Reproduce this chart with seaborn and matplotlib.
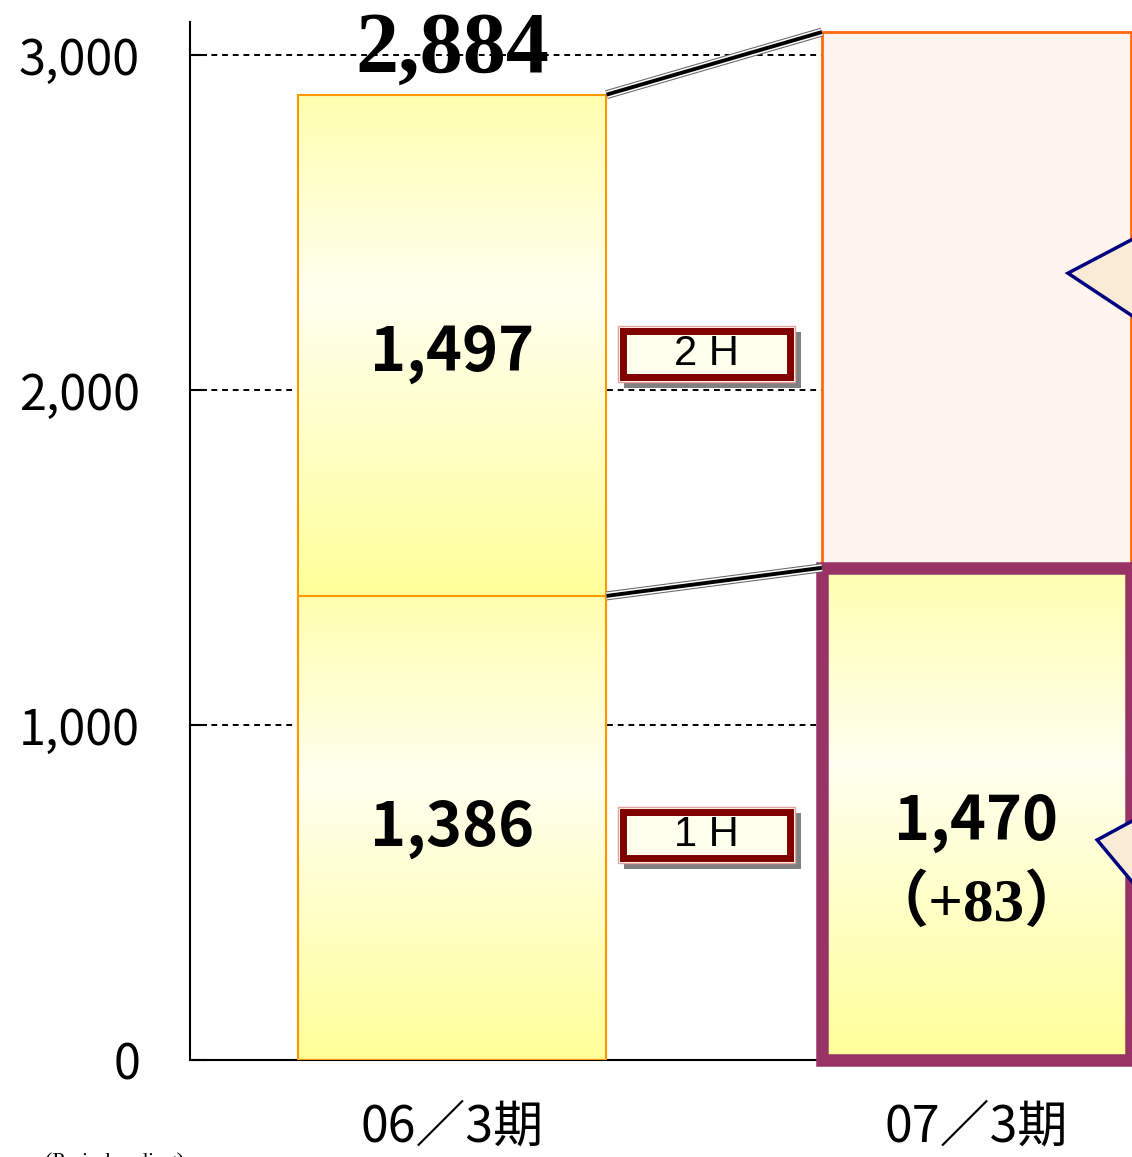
import numpy as np
import pandas as pd
import seaborn as sns
import matplotlib.pyplot as plt
import matplotlib.patheffects as pe
import matplotlib.transforms as mtransforms
from matplotlib.patches import Rectangle, Polygon
from matplotlib.colors import LinearSegmentedColormap

# data
periods = ["06／3期", "07／3期"]
first_half = [1386, 1470]
second_half = [1497, 1600]
total_labels = ["2,884", ""]
first_half_labels = ["1,386", "1,470"]
second_half_labels = ["1,497", ""]
change_label = "（+83）"
half_names = ["1 H", "2 H"]
yticks = [0, 1000, 2000, 3000]

totals = [a + b for a, b in zip(first_half, second_half)]
df = pd.DataFrame({"period": periods, "h1": first_half, "total": totals})

sns.set_style("white")
plt.rcParams["font.family"] = ["Noto Sans CJK JP", "DejaVu Sans"]
plt.rcParams["text.color"] = "black"
plt.rcParams["xtick.color"] = "black"
plt.rcParams["ytick.color"] = "black"

fig = plt.figure(figsize=(11.32, 11.57), dpi=100)
ax = fig.add_axes([190 / 1132, 97 / 1157, 942 / 1132, 1038 / 1157])

bar_w = 0.589
sns.barplot(data=df, x="period", y="total", width=bar_w, ax=ax, color="#FFF5EE")
sns.barplot(data=df, x="period", y="h1", width=bar_w, ax=ax, color="#FFFF99")
tot_bars = ax.patches[:2]
h1_bars = ax.patches[2:4]

cmap = LinearSegmentedColormap.from_list(
    "yel", [(0, "#FFFF99"), (0.6, "#FFFFF0"), (1, "#FFFFB0")])
grad = np.linspace(0, 1, 256).reshape(-1, 1)

def fill_grad(x0, w, y0, y1):
    ax.imshow(grad, extent=[x0, x0 + w, y0, y1], origin="lower", aspect="auto",
              cmap=cmap, zorder=3, interpolation="bilinear")

# bar 1 - both halves yellow
p = tot_bars[0]
fill_grad(p.get_x(), p.get_width(), first_half[0], totals[0])
p.set_facecolor("none"); p.set_edgecolor("#FF9900"); p.set_linewidth(1.5); p.set_zorder(4)
p = h1_bars[0]
fill_grad(p.get_x(), p.get_width(), 0, first_half[0])
p.set_facecolor("none"); p.set_edgecolor("#FF9900"); p.set_linewidth(1.5); p.set_zorder(4)

# bar 2 - upper pale, lower highlighted
p = tot_bars[1]
p.set_facecolor("#FFF5EE"); p.set_edgecolor("#FF6A10"); p.set_linewidth(2); p.set_zorder(2)
p = h1_bars[1]
fill_grad(p.get_x(), p.get_width(), 0, first_half[1])
p.set_facecolor("none"); p.set_edgecolor("#993366"); p.set_linewidth(9); p.set_zorder(4)
p.set_clip_on(False)

# connector lines
x_r = 0 + bar_w / 2
x_l = 1 - bar_w / 2
conn_fx = [pe.Stroke(linewidth=6.5, foreground="#666666"),
           pe.Stroke(linewidth=5, foreground="white"), pe.Normal()]
for y_a, y_b in [(totals[0], totals[1]), (first_half[0], first_half[1])]:
    ax.plot([x_r, x_l], [y_a, y_b], color="black", lw=2.8, zorder=5,
            solid_capstyle="butt", path_effects=conn_fx)

# value labels
ax.text(0, first_half[0] / 2, first_half_labels[0], ha="center", va="center",
        fontsize=44, fontweight="bold", zorder=6)
ax.text(0, first_half[0] + second_half[0] / 2 - 25, second_half_labels[0], ha="center",
        va="center", fontsize=44, fontweight="bold", zorder=6)
ax.text(0, totals[0] + 130, total_labels[0], ha="center", va="center",
        fontsize=62, fontweight="bold", family="Liberation Serif", zorder=6)
ax.text(1, first_half[1] / 2 - 25, first_half_labels[1], ha="center", va="center",
        fontsize=44, fontweight="bold", zorder=6)
ax.text(1, first_half[1] / 2 - 270, change_label, ha="center", va="center",
        fontsize=44, fontweight="bold", family=["Liberation Serif", "Noto Sans CJK JP"],
        zorder=6)

# 1H / 2H boxes
box_w, box_h = 177 / 524.2, 56 / 0.3347
box_x = 0.485
dx, dy = 2 / 524.2, 2 / 0.3347
shadow = mtransforms.offset_copy(ax.transData, fig=fig, x=6, y=-6, units="dots")
for name, yc in zip(half_names, [first_half[0] / 2 - 20, first_half[0] + second_half[0] / 2 - 25]):
    x0, y0 = box_x - box_w / 2, yc - box_h / 2
    ax.add_patch(Rectangle((x0, y0), box_w, box_h, transform=shadow,
                           fc="#808080", ec="none", zorder=5))
    ax.add_patch(Rectangle((x0, y0), box_w, box_h, fc="#FFFFEE", ec="#E8A0A0",
                           lw=1, zorder=6))
    ax.add_patch(Rectangle((x0 + 2.5 * dx, y0 + 2.5 * dy), box_w - 5 * dx, box_h - 5 * dy,
                           fc="none", ec="#800000", lw=5, zorder=6))
    ax.text(box_x, yc, name, ha="center", va="center",
            fontsize=30, family="Liberation Sans", zorder=7)

# callout tips on the right
for pts in [[(0.932, 0.758), (1.02, 0.800), (1.02, 0.705)],
            [(0.963, 0.212), (1.02, 0.240), (1.02, 0.150)]]:
    ax.add_patch(Polygon(pts, closed=True, transform=ax.transAxes, fc="#FAEBD7",
                         ec="#000080", lw=2.5, zorder=7, clip_on=False))

# axes styling
ax.set_xlim(-0.5, 1.297)
ax.set_ylim(0, 3100)
ax.set_yticks(yticks)
ax.set_yticklabels([f"{v:,}" for v in yticks])
ax.set_axisbelow(True)
ax.yaxis.grid(True, linestyle=(0, (3, 2.5)), color="black", lw=1.4)
ax.xaxis.grid(False)
for s in ["top", "right"]:
    ax.spines[s].set_visible(False)
for s in ["left", "bottom"]:
    ax.spines[s].set_color("black")
    ax.spines[s].set_linewidth(1.5)
ax.tick_params(axis="y", direction="in", length=12, width=1.5, labelsize=35, pad=36, left=True)
ax.tick_params(axis="x", length=0, labelsize=36, pad=30)
ax.set_xlabel("")
ax.set_ylabel("")

fig.text(45 / 1132, 0.004, "(Period ending)", ha="left", va="top", fontsize=16,
         family="Liberation Serif")

fig.savefig("out.png", dpi=100)
